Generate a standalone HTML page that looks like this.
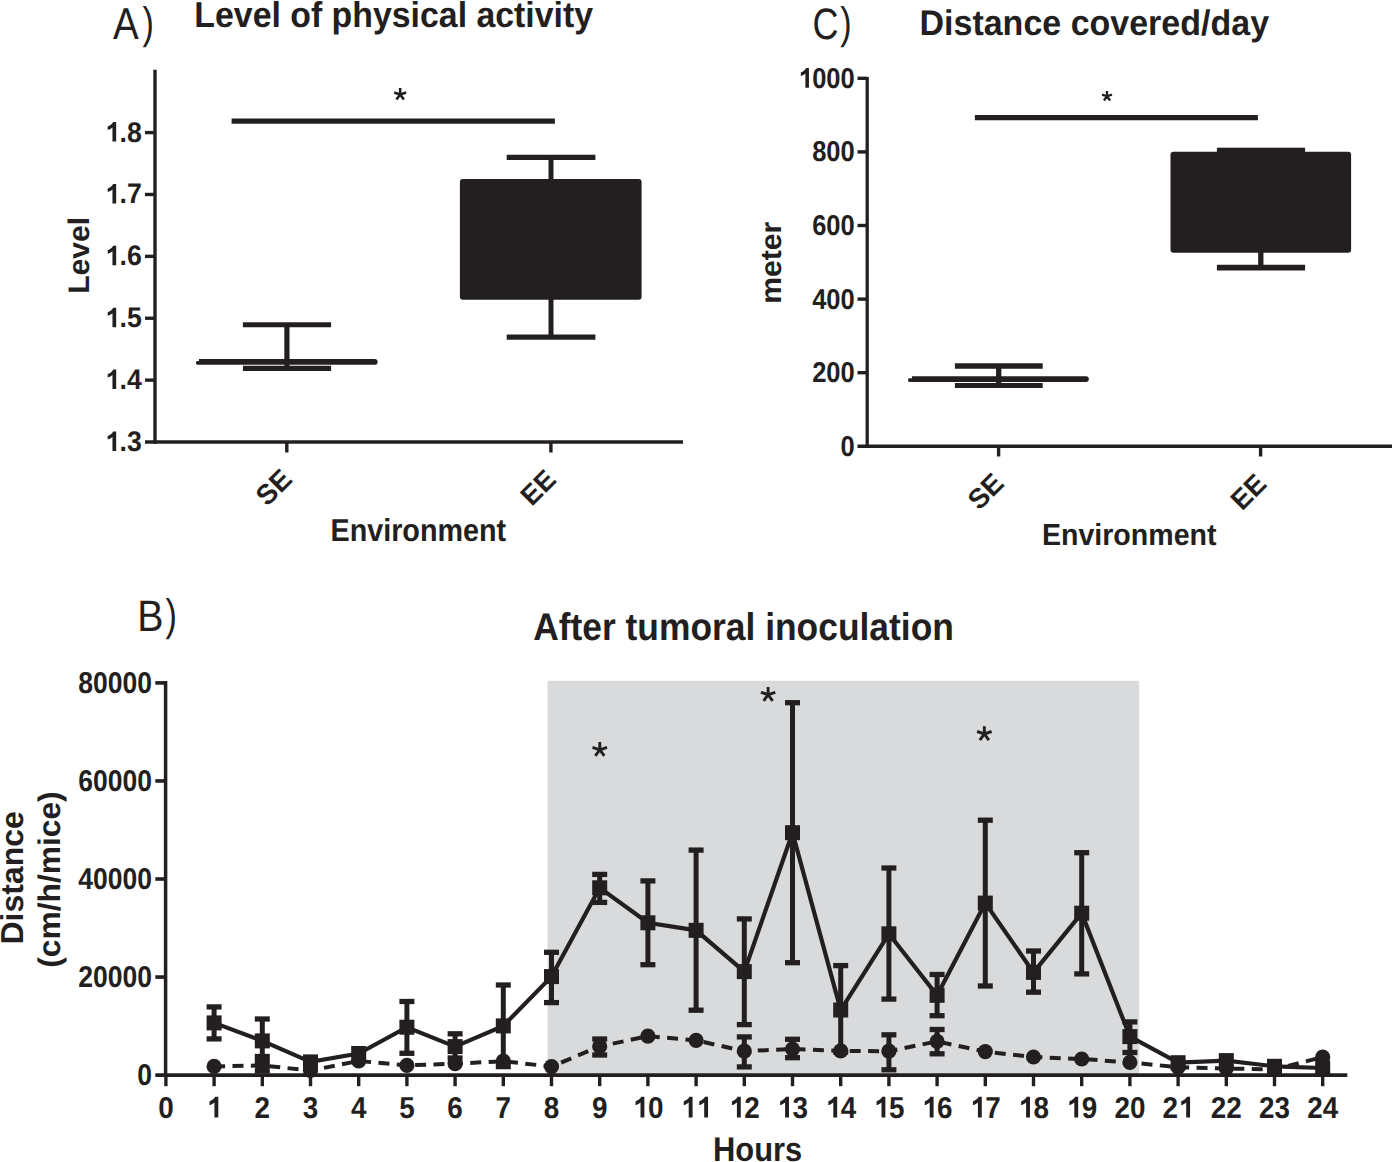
<!DOCTYPE html>
<html><head><meta charset="utf-8"><title>Figure</title>
<style>html,body{margin:0;padding:0;background:#fff;} svg{display:block;} text{font-family:"Liberation Sans", sans-serif;}</style>
</head><body>
<svg width="1392" height="1162" viewBox="0 0 1392 1162">
<defs><path id="one" fill="#231f20" d="M 880 0 L 595 0 L 595 1010 C 510 935 370 865 230 830 L 230 1085 C 340 1120 460 1190 535 1260 C 600 1320 630 1370 645 1409 L 880 1409 Z"/></defs>
<rect x="0" y="0" width="1392" height="1162" fill="#fff"/>
<line x1="155.00" y1="69.70" x2="155.00" y2="443.80" stroke="#231f20" stroke-width="3.4" stroke-linecap="butt"/>
<line x1="145.00" y1="442.00" x2="683.00" y2="442.00" stroke="#231f20" stroke-width="3.6" stroke-linecap="butt"/>
<line x1="145.00" y1="380.12" x2="155.00" y2="380.12" stroke="#231f20" stroke-width="3.4" stroke-linecap="butt"/>
<line x1="145.00" y1="318.24" x2="155.00" y2="318.24" stroke="#231f20" stroke-width="3.4" stroke-linecap="butt"/>
<line x1="145.00" y1="256.36" x2="155.00" y2="256.36" stroke="#231f20" stroke-width="3.4" stroke-linecap="butt"/>
<line x1="145.00" y1="194.48" x2="155.00" y2="194.48" stroke="#231f20" stroke-width="3.4" stroke-linecap="butt"/>
<line x1="145.00" y1="132.60" x2="155.00" y2="132.60" stroke="#231f20" stroke-width="3.4" stroke-linecap="butt"/>
<line x1="286.80" y1="442.00" x2="286.80" y2="452.50" stroke="#231f20" stroke-width="3.4" stroke-linecap="butt"/>
<line x1="550.90" y1="442.00" x2="550.90" y2="452.50" stroke="#231f20" stroke-width="3.4" stroke-linecap="butt"/>
<line x1="231.60" y1="121.10" x2="554.90" y2="121.10" stroke="#231f20" stroke-width="5.4" stroke-linecap="butt"/>
<line x1="242.90" y1="324.70" x2="331.10" y2="324.70" stroke="#231f20" stroke-width="5.0" stroke-linecap="butt"/>
<line x1="286.90" y1="324.70" x2="286.90" y2="368.30" stroke="#231f20" stroke-width="5.2" stroke-linecap="butt"/>
<line x1="242.90" y1="368.30" x2="331.10" y2="368.30" stroke="#231f20" stroke-width="5.3" stroke-linecap="butt"/>
<path d="M199.0,359.1 H374.8 A2.8,2.8 0 0 1 374.8,364.7 H199.0 Z" fill="#231f20"/>
<rect x="196.0" y="361.0" width="4" height="3.7" rx="1.4" fill="#231f20"/>
<line x1="506.70" y1="157.40" x2="595.40" y2="157.40" stroke="#231f20" stroke-width="5.4" stroke-linecap="butt"/>
<line x1="551.00" y1="157.40" x2="551.00" y2="337.10" stroke="#231f20" stroke-width="5.0" stroke-linecap="butt"/>
<line x1="506.70" y1="337.10" x2="595.40" y2="337.10" stroke="#231f20" stroke-width="5.4" stroke-linecap="butt"/>
<rect x="459.90" y="179.10" width="181.70" height="120.60" rx="3" fill="#231f20"/>
<line x1="867.20" y1="77.00" x2="867.20" y2="448.00" stroke="#231f20" stroke-width="3.3" stroke-linecap="butt"/>
<line x1="857.50" y1="446.30" x2="1392.00" y2="446.30" stroke="#231f20" stroke-width="3.6" stroke-linecap="butt"/>
<line x1="857.50" y1="372.70" x2="867.20" y2="372.70" stroke="#231f20" stroke-width="3.4" stroke-linecap="butt"/>
<line x1="857.50" y1="299.10" x2="867.20" y2="299.10" stroke="#231f20" stroke-width="3.4" stroke-linecap="butt"/>
<line x1="857.50" y1="225.50" x2="867.20" y2="225.50" stroke="#231f20" stroke-width="3.4" stroke-linecap="butt"/>
<line x1="857.50" y1="151.90" x2="867.20" y2="151.90" stroke="#231f20" stroke-width="3.4" stroke-linecap="butt"/>
<line x1="857.50" y1="78.30" x2="867.20" y2="78.30" stroke="#231f20" stroke-width="3.4" stroke-linecap="butt"/>
<line x1="998.60" y1="446.30" x2="998.60" y2="456.50" stroke="#231f20" stroke-width="3.4" stroke-linecap="butt"/>
<line x1="1260.60" y1="446.30" x2="1260.60" y2="456.50" stroke="#231f20" stroke-width="3.4" stroke-linecap="butt"/>
<line x1="974.90" y1="117.60" x2="1257.90" y2="117.60" stroke="#231f20" stroke-width="5.3" stroke-linecap="butt"/>
<line x1="954.90" y1="366.00" x2="1042.70" y2="366.00" stroke="#231f20" stroke-width="5.3" stroke-linecap="butt"/>
<line x1="998.70" y1="366.00" x2="998.70" y2="385.50" stroke="#231f20" stroke-width="5.3" stroke-linecap="butt"/>
<line x1="954.90" y1="385.50" x2="1042.70" y2="385.50" stroke="#231f20" stroke-width="5.0" stroke-linecap="butt"/>
<path d="M911.9,376.2 H1086.0 A2.85,2.85 0 0 1 1086.0,381.9 H911.9 Z" fill="#231f20"/>
<rect x="908.1" y="378.2" width="4.5" height="3.7" rx="1.4" fill="#231f20"/>
<rect x="1216.90" y="147.70" width="88.20" height="7.30" rx="0" fill="#231f20"/>
<rect x="1170.50" y="151.70" width="180.60" height="101.00" rx="3" fill="#231f20"/>
<line x1="1260.80" y1="250.00" x2="1260.80" y2="267.60" stroke="#231f20" stroke-width="5.3" stroke-linecap="butt"/>
<line x1="1216.90" y1="267.60" x2="1305.10" y2="267.60" stroke="#231f20" stroke-width="5.8" stroke-linecap="butt"/>
<rect x="547.50" y="680.80" width="591.70" height="394.30" rx="1.5" fill="#d9dadc"/>
<line x1="165.60" y1="681.00" x2="165.60" y2="1077.00" stroke="#231f20" stroke-width="3.5" stroke-linecap="butt"/>
<line x1="155.30" y1="1075.10" x2="1347.30" y2="1075.10" stroke="#231f20" stroke-width="3.8" stroke-linecap="butt"/>
<line x1="155.30" y1="977.05" x2="165.60" y2="977.05" stroke="#231f20" stroke-width="3.6" stroke-linecap="butt"/>
<line x1="155.30" y1="879.00" x2="165.60" y2="879.00" stroke="#231f20" stroke-width="3.6" stroke-linecap="butt"/>
<line x1="155.30" y1="780.95" x2="165.60" y2="780.95" stroke="#231f20" stroke-width="3.6" stroke-linecap="butt"/>
<line x1="155.30" y1="682.90" x2="165.60" y2="682.90" stroke="#231f20" stroke-width="3.6" stroke-linecap="butt"/>
<line x1="165.90" y1="1075.10" x2="165.90" y2="1086.20" stroke="#231f20" stroke-width="3.4" stroke-linecap="butt"/>
<line x1="214.10" y1="1075.10" x2="214.10" y2="1086.20" stroke="#231f20" stroke-width="3.4" stroke-linecap="butt"/>
<line x1="262.30" y1="1075.10" x2="262.30" y2="1086.20" stroke="#231f20" stroke-width="3.4" stroke-linecap="butt"/>
<line x1="310.50" y1="1075.10" x2="310.50" y2="1086.20" stroke="#231f20" stroke-width="3.4" stroke-linecap="butt"/>
<line x1="358.70" y1="1075.10" x2="358.70" y2="1086.20" stroke="#231f20" stroke-width="3.4" stroke-linecap="butt"/>
<line x1="406.90" y1="1075.10" x2="406.90" y2="1086.20" stroke="#231f20" stroke-width="3.4" stroke-linecap="butt"/>
<line x1="455.10" y1="1075.10" x2="455.10" y2="1086.20" stroke="#231f20" stroke-width="3.4" stroke-linecap="butt"/>
<line x1="503.30" y1="1075.10" x2="503.30" y2="1086.20" stroke="#231f20" stroke-width="3.4" stroke-linecap="butt"/>
<line x1="551.50" y1="1075.10" x2="551.50" y2="1086.20" stroke="#231f20" stroke-width="3.4" stroke-linecap="butt"/>
<line x1="599.70" y1="1075.10" x2="599.70" y2="1086.20" stroke="#231f20" stroke-width="3.4" stroke-linecap="butt"/>
<line x1="647.90" y1="1075.10" x2="647.90" y2="1086.20" stroke="#231f20" stroke-width="3.4" stroke-linecap="butt"/>
<line x1="696.10" y1="1075.10" x2="696.10" y2="1086.20" stroke="#231f20" stroke-width="3.4" stroke-linecap="butt"/>
<line x1="744.30" y1="1075.10" x2="744.30" y2="1086.20" stroke="#231f20" stroke-width="3.4" stroke-linecap="butt"/>
<line x1="792.50" y1="1075.10" x2="792.50" y2="1086.20" stroke="#231f20" stroke-width="3.4" stroke-linecap="butt"/>
<line x1="840.70" y1="1075.10" x2="840.70" y2="1086.20" stroke="#231f20" stroke-width="3.4" stroke-linecap="butt"/>
<line x1="888.90" y1="1075.10" x2="888.90" y2="1086.20" stroke="#231f20" stroke-width="3.4" stroke-linecap="butt"/>
<line x1="937.10" y1="1075.10" x2="937.10" y2="1086.20" stroke="#231f20" stroke-width="3.4" stroke-linecap="butt"/>
<line x1="985.30" y1="1075.10" x2="985.30" y2="1086.20" stroke="#231f20" stroke-width="3.4" stroke-linecap="butt"/>
<line x1="1033.50" y1="1075.10" x2="1033.50" y2="1086.20" stroke="#231f20" stroke-width="3.4" stroke-linecap="butt"/>
<line x1="1081.70" y1="1075.10" x2="1081.70" y2="1086.20" stroke="#231f20" stroke-width="3.4" stroke-linecap="butt"/>
<line x1="1129.90" y1="1075.10" x2="1129.90" y2="1086.20" stroke="#231f20" stroke-width="3.4" stroke-linecap="butt"/>
<line x1="1178.10" y1="1075.10" x2="1178.10" y2="1086.20" stroke="#231f20" stroke-width="3.4" stroke-linecap="butt"/>
<line x1="1226.30" y1="1075.10" x2="1226.30" y2="1086.20" stroke="#231f20" stroke-width="3.4" stroke-linecap="butt"/>
<line x1="1274.50" y1="1075.10" x2="1274.50" y2="1086.20" stroke="#231f20" stroke-width="3.4" stroke-linecap="butt"/>
<line x1="1322.70" y1="1075.10" x2="1322.70" y2="1086.20" stroke="#231f20" stroke-width="3.4" stroke-linecap="butt"/>
<polyline points="214.10,1066.40 262.30,1065.50 310.50,1070.50 358.70,1061.00 406.90,1065.40 455.10,1063.70 503.30,1061.20 551.50,1066.60 599.70,1046.40 647.90,1036.20 696.10,1040.30 744.30,1051.20 792.50,1049.00 840.70,1050.90 888.90,1051.20 937.10,1041.40 985.30,1051.60 1033.50,1057.00 1081.70,1059.00 1129.90,1062.40 1178.10,1067.20 1226.30,1068.50 1274.50,1069.50 1322.70,1057.00" fill="none" stroke="#231f20" stroke-width="4.0" stroke-dasharray="11 7.4"/>
<circle cx="214.10" cy="1066.40" r="7.6" fill="#231f20"/>
<line x1="262.30" y1="1061.50" x2="262.30" y2="1065.50" stroke="#231f20" stroke-width="5.0" stroke-linecap="butt"/>
<line x1="254.80" y1="1061.50" x2="269.80" y2="1061.50" stroke="#231f20" stroke-width="5.3" stroke-linecap="butt"/>
<line x1="262.30" y1="1065.50" x2="262.30" y2="1071.00" stroke="#231f20" stroke-width="5.0" stroke-linecap="butt"/>
<line x1="254.80" y1="1071.00" x2="269.80" y2="1071.00" stroke="#231f20" stroke-width="5.3" stroke-linecap="butt"/>
<circle cx="262.30" cy="1065.50" r="7.6" fill="#231f20"/>
<circle cx="310.50" cy="1070.50" r="7.6" fill="#231f20"/>
<circle cx="358.70" cy="1061.00" r="7.6" fill="#231f20"/>
<circle cx="406.90" cy="1065.40" r="7.6" fill="#231f20"/>
<circle cx="455.10" cy="1063.70" r="7.6" fill="#231f20"/>
<circle cx="503.30" cy="1061.20" r="7.6" fill="#231f20"/>
<circle cx="551.50" cy="1066.60" r="7.6" fill="#231f20"/>
<line x1="599.70" y1="1039.00" x2="599.70" y2="1046.40" stroke="#231f20" stroke-width="5.0" stroke-linecap="butt"/>
<line x1="592.20" y1="1039.00" x2="607.20" y2="1039.00" stroke="#231f20" stroke-width="5.3" stroke-linecap="butt"/>
<line x1="599.70" y1="1046.40" x2="599.70" y2="1055.00" stroke="#231f20" stroke-width="5.0" stroke-linecap="butt"/>
<line x1="592.20" y1="1055.00" x2="607.20" y2="1055.00" stroke="#231f20" stroke-width="5.3" stroke-linecap="butt"/>
<circle cx="599.70" cy="1046.40" r="7.6" fill="#231f20"/>
<circle cx="647.90" cy="1036.20" r="7.6" fill="#231f20"/>
<circle cx="696.10" cy="1040.30" r="7.6" fill="#231f20"/>
<line x1="744.30" y1="1036.90" x2="744.30" y2="1051.20" stroke="#231f20" stroke-width="5.0" stroke-linecap="butt"/>
<line x1="736.80" y1="1036.90" x2="751.80" y2="1036.90" stroke="#231f20" stroke-width="5.3" stroke-linecap="butt"/>
<line x1="744.30" y1="1051.20" x2="744.30" y2="1066.90" stroke="#231f20" stroke-width="5.0" stroke-linecap="butt"/>
<line x1="736.80" y1="1066.90" x2="751.80" y2="1066.90" stroke="#231f20" stroke-width="5.3" stroke-linecap="butt"/>
<circle cx="744.30" cy="1051.20" r="7.6" fill="#231f20"/>
<line x1="792.50" y1="1039.30" x2="792.50" y2="1049.00" stroke="#231f20" stroke-width="5.0" stroke-linecap="butt"/>
<line x1="785.00" y1="1039.30" x2="800.00" y2="1039.30" stroke="#231f20" stroke-width="5.3" stroke-linecap="butt"/>
<line x1="792.50" y1="1049.00" x2="792.50" y2="1057.70" stroke="#231f20" stroke-width="5.0" stroke-linecap="butt"/>
<line x1="785.00" y1="1057.70" x2="800.00" y2="1057.70" stroke="#231f20" stroke-width="5.3" stroke-linecap="butt"/>
<circle cx="792.50" cy="1049.00" r="7.6" fill="#231f20"/>
<circle cx="840.70" cy="1050.90" r="7.6" fill="#231f20"/>
<line x1="888.90" y1="1034.80" x2="888.90" y2="1051.20" stroke="#231f20" stroke-width="5.0" stroke-linecap="butt"/>
<line x1="881.40" y1="1034.80" x2="896.40" y2="1034.80" stroke="#231f20" stroke-width="5.3" stroke-linecap="butt"/>
<line x1="888.90" y1="1051.20" x2="888.90" y2="1069.80" stroke="#231f20" stroke-width="5.0" stroke-linecap="butt"/>
<line x1="881.40" y1="1069.80" x2="896.40" y2="1069.80" stroke="#231f20" stroke-width="5.3" stroke-linecap="butt"/>
<circle cx="888.90" cy="1051.20" r="7.6" fill="#231f20"/>
<line x1="937.10" y1="1029.50" x2="937.10" y2="1041.40" stroke="#231f20" stroke-width="5.0" stroke-linecap="butt"/>
<line x1="929.60" y1="1029.50" x2="944.60" y2="1029.50" stroke="#231f20" stroke-width="5.3" stroke-linecap="butt"/>
<line x1="937.10" y1="1041.40" x2="937.10" y2="1053.80" stroke="#231f20" stroke-width="5.0" stroke-linecap="butt"/>
<line x1="929.60" y1="1053.80" x2="944.60" y2="1053.80" stroke="#231f20" stroke-width="5.3" stroke-linecap="butt"/>
<circle cx="937.10" cy="1041.40" r="7.6" fill="#231f20"/>
<circle cx="985.30" cy="1051.60" r="7.6" fill="#231f20"/>
<circle cx="1033.50" cy="1057.00" r="7.6" fill="#231f20"/>
<circle cx="1081.70" cy="1059.00" r="7.6" fill="#231f20"/>
<circle cx="1129.90" cy="1062.40" r="7.6" fill="#231f20"/>
<circle cx="1178.10" cy="1067.20" r="7.6" fill="#231f20"/>
<circle cx="1226.30" cy="1068.50" r="7.6" fill="#231f20"/>
<circle cx="1274.50" cy="1069.50" r="7.6" fill="#231f20"/>
<circle cx="1322.70" cy="1057.00" r="7.6" fill="#231f20"/>
<polyline points="214.10,1022.90 262.30,1040.90 310.50,1061.90 358.70,1053.50 406.90,1027.20 455.10,1046.60 503.30,1025.90 551.50,976.60 599.70,887.80 647.90,922.80 696.10,930.30 744.30,971.60 792.50,832.70 840.70,1010.00 888.90,933.80 937.10,995.30 985.30,903.10 1033.50,972.40 1081.70,913.20 1129.90,1036.60 1178.10,1062.70 1226.30,1060.60 1274.50,1066.30 1322.70,1068.00" fill="none" stroke="#231f20" stroke-width="4.2" stroke-linejoin="miter"/>
<line x1="214.10" y1="1006.90" x2="214.10" y2="1022.90" stroke="#231f20" stroke-width="5.0" stroke-linecap="butt"/>
<line x1="206.60" y1="1006.90" x2="221.60" y2="1006.90" stroke="#231f20" stroke-width="5.3" stroke-linecap="butt"/>
<line x1="214.10" y1="1022.90" x2="214.10" y2="1038.90" stroke="#231f20" stroke-width="5.0" stroke-linecap="butt"/>
<line x1="206.60" y1="1038.90" x2="221.60" y2="1038.90" stroke="#231f20" stroke-width="5.3" stroke-linecap="butt"/>
<rect x="206.60" y="1015.40" width="15.00" height="15.00" rx="0" fill="#231f20"/>
<line x1="262.30" y1="1019.00" x2="262.30" y2="1040.90" stroke="#231f20" stroke-width="5.0" stroke-linecap="butt"/>
<line x1="254.80" y1="1019.00" x2="269.80" y2="1019.00" stroke="#231f20" stroke-width="5.3" stroke-linecap="butt"/>
<line x1="262.30" y1="1040.90" x2="262.30" y2="1056.50" stroke="#231f20" stroke-width="5.0" stroke-linecap="butt"/>
<line x1="254.80" y1="1056.50" x2="269.80" y2="1056.50" stroke="#231f20" stroke-width="5.3" stroke-linecap="butt"/>
<rect x="254.80" y="1033.40" width="15.00" height="15.00" rx="0" fill="#231f20"/>
<rect x="303.00" y="1054.40" width="15.00" height="15.00" rx="0" fill="#231f20"/>
<rect x="351.20" y="1046.00" width="15.00" height="15.00" rx="0" fill="#231f20"/>
<line x1="406.90" y1="1001.50" x2="406.90" y2="1027.20" stroke="#231f20" stroke-width="5.0" stroke-linecap="butt"/>
<line x1="399.40" y1="1001.50" x2="414.40" y2="1001.50" stroke="#231f20" stroke-width="5.3" stroke-linecap="butt"/>
<line x1="406.90" y1="1027.20" x2="406.90" y2="1053.30" stroke="#231f20" stroke-width="5.0" stroke-linecap="butt"/>
<line x1="399.40" y1="1053.30" x2="414.40" y2="1053.30" stroke="#231f20" stroke-width="5.3" stroke-linecap="butt"/>
<rect x="399.40" y="1019.70" width="15.00" height="15.00" rx="0" fill="#231f20"/>
<line x1="455.10" y1="1033.80" x2="455.10" y2="1046.60" stroke="#231f20" stroke-width="5.0" stroke-linecap="butt"/>
<line x1="447.60" y1="1033.80" x2="462.60" y2="1033.80" stroke="#231f20" stroke-width="5.3" stroke-linecap="butt"/>
<line x1="455.10" y1="1046.60" x2="455.10" y2="1058.00" stroke="#231f20" stroke-width="5.0" stroke-linecap="butt"/>
<line x1="447.60" y1="1058.00" x2="462.60" y2="1058.00" stroke="#231f20" stroke-width="5.3" stroke-linecap="butt"/>
<rect x="447.60" y="1039.10" width="15.00" height="15.00" rx="0" fill="#231f20"/>
<line x1="503.30" y1="985.00" x2="503.30" y2="1025.90" stroke="#231f20" stroke-width="5.0" stroke-linecap="butt"/>
<line x1="495.80" y1="985.00" x2="510.80" y2="985.00" stroke="#231f20" stroke-width="5.3" stroke-linecap="butt"/>
<line x1="503.30" y1="1025.90" x2="503.30" y2="1066.60" stroke="#231f20" stroke-width="5.0" stroke-linecap="butt"/>
<line x1="495.80" y1="1066.60" x2="510.80" y2="1066.60" stroke="#231f20" stroke-width="5.3" stroke-linecap="butt"/>
<rect x="495.80" y="1018.40" width="15.00" height="15.00" rx="0" fill="#231f20"/>
<line x1="551.50" y1="952.30" x2="551.50" y2="976.60" stroke="#231f20" stroke-width="5.0" stroke-linecap="butt"/>
<line x1="544.00" y1="952.30" x2="559.00" y2="952.30" stroke="#231f20" stroke-width="5.3" stroke-linecap="butt"/>
<line x1="551.50" y1="976.60" x2="551.50" y2="1002.60" stroke="#231f20" stroke-width="5.0" stroke-linecap="butt"/>
<line x1="544.00" y1="1002.60" x2="559.00" y2="1002.60" stroke="#231f20" stroke-width="5.3" stroke-linecap="butt"/>
<rect x="544.00" y="969.10" width="15.00" height="15.00" rx="0" fill="#231f20"/>
<line x1="599.70" y1="874.40" x2="599.70" y2="887.80" stroke="#231f20" stroke-width="5.0" stroke-linecap="butt"/>
<line x1="592.20" y1="874.40" x2="607.20" y2="874.40" stroke="#231f20" stroke-width="5.3" stroke-linecap="butt"/>
<line x1="599.70" y1="887.80" x2="599.70" y2="902.40" stroke="#231f20" stroke-width="5.0" stroke-linecap="butt"/>
<line x1="592.20" y1="902.40" x2="607.20" y2="902.40" stroke="#231f20" stroke-width="5.3" stroke-linecap="butt"/>
<rect x="592.20" y="880.30" width="15.00" height="15.00" rx="0" fill="#231f20"/>
<line x1="647.90" y1="880.90" x2="647.90" y2="922.80" stroke="#231f20" stroke-width="5.0" stroke-linecap="butt"/>
<line x1="640.40" y1="880.90" x2="655.40" y2="880.90" stroke="#231f20" stroke-width="5.3" stroke-linecap="butt"/>
<line x1="647.90" y1="922.80" x2="647.90" y2="964.70" stroke="#231f20" stroke-width="5.0" stroke-linecap="butt"/>
<line x1="640.40" y1="964.70" x2="655.40" y2="964.70" stroke="#231f20" stroke-width="5.3" stroke-linecap="butt"/>
<rect x="640.40" y="915.30" width="15.00" height="15.00" rx="0" fill="#231f20"/>
<line x1="696.10" y1="850.10" x2="696.10" y2="930.30" stroke="#231f20" stroke-width="5.0" stroke-linecap="butt"/>
<line x1="688.60" y1="850.10" x2="703.60" y2="850.10" stroke="#231f20" stroke-width="5.3" stroke-linecap="butt"/>
<line x1="696.10" y1="930.30" x2="696.10" y2="1010.20" stroke="#231f20" stroke-width="5.0" stroke-linecap="butt"/>
<line x1="688.60" y1="1010.20" x2="703.60" y2="1010.20" stroke="#231f20" stroke-width="5.3" stroke-linecap="butt"/>
<rect x="688.60" y="922.80" width="15.00" height="15.00" rx="0" fill="#231f20"/>
<line x1="744.30" y1="918.90" x2="744.30" y2="971.60" stroke="#231f20" stroke-width="5.0" stroke-linecap="butt"/>
<line x1="736.80" y1="918.90" x2="751.80" y2="918.90" stroke="#231f20" stroke-width="5.3" stroke-linecap="butt"/>
<line x1="744.30" y1="971.60" x2="744.30" y2="1024.60" stroke="#231f20" stroke-width="5.0" stroke-linecap="butt"/>
<line x1="736.80" y1="1024.60" x2="751.80" y2="1024.60" stroke="#231f20" stroke-width="5.3" stroke-linecap="butt"/>
<rect x="736.80" y="964.10" width="15.00" height="15.00" rx="0" fill="#231f20"/>
<line x1="792.50" y1="702.70" x2="792.50" y2="832.70" stroke="#231f20" stroke-width="5.0" stroke-linecap="butt"/>
<line x1="785.00" y1="702.70" x2="800.00" y2="702.70" stroke="#231f20" stroke-width="5.3" stroke-linecap="butt"/>
<line x1="792.50" y1="832.70" x2="792.50" y2="962.70" stroke="#231f20" stroke-width="5.0" stroke-linecap="butt"/>
<line x1="785.00" y1="962.70" x2="800.00" y2="962.70" stroke="#231f20" stroke-width="5.3" stroke-linecap="butt"/>
<rect x="785.00" y="825.20" width="15.00" height="15.00" rx="0" fill="#231f20"/>
<line x1="840.70" y1="965.60" x2="840.70" y2="1010.00" stroke="#231f20" stroke-width="5.0" stroke-linecap="butt"/>
<line x1="833.20" y1="965.60" x2="848.20" y2="965.60" stroke="#231f20" stroke-width="5.3" stroke-linecap="butt"/>
<line x1="840.70" y1="1010.00" x2="840.70" y2="1052.00" stroke="#231f20" stroke-width="5.0" stroke-linecap="butt"/>
<line x1="833.20" y1="1052.00" x2="848.20" y2="1052.00" stroke="#231f20" stroke-width="5.3" stroke-linecap="butt"/>
<rect x="833.20" y="1002.50" width="15.00" height="15.00" rx="0" fill="#231f20"/>
<line x1="888.90" y1="868.00" x2="888.90" y2="933.80" stroke="#231f20" stroke-width="5.0" stroke-linecap="butt"/>
<line x1="881.40" y1="868.00" x2="896.40" y2="868.00" stroke="#231f20" stroke-width="5.3" stroke-linecap="butt"/>
<line x1="888.90" y1="933.80" x2="888.90" y2="999.10" stroke="#231f20" stroke-width="5.0" stroke-linecap="butt"/>
<line x1="881.40" y1="999.10" x2="896.40" y2="999.10" stroke="#231f20" stroke-width="5.3" stroke-linecap="butt"/>
<rect x="881.40" y="926.30" width="15.00" height="15.00" rx="0" fill="#231f20"/>
<line x1="937.10" y1="974.50" x2="937.10" y2="995.30" stroke="#231f20" stroke-width="5.0" stroke-linecap="butt"/>
<line x1="929.60" y1="974.50" x2="944.60" y2="974.50" stroke="#231f20" stroke-width="5.3" stroke-linecap="butt"/>
<line x1="937.10" y1="995.30" x2="937.10" y2="1015.70" stroke="#231f20" stroke-width="5.0" stroke-linecap="butt"/>
<line x1="929.60" y1="1015.70" x2="944.60" y2="1015.70" stroke="#231f20" stroke-width="5.3" stroke-linecap="butt"/>
<rect x="929.60" y="987.80" width="15.00" height="15.00" rx="0" fill="#231f20"/>
<line x1="985.30" y1="820.20" x2="985.30" y2="903.10" stroke="#231f20" stroke-width="5.0" stroke-linecap="butt"/>
<line x1="977.80" y1="820.20" x2="992.80" y2="820.20" stroke="#231f20" stroke-width="5.3" stroke-linecap="butt"/>
<line x1="985.30" y1="903.10" x2="985.30" y2="986.00" stroke="#231f20" stroke-width="5.0" stroke-linecap="butt"/>
<line x1="977.80" y1="986.00" x2="992.80" y2="986.00" stroke="#231f20" stroke-width="5.3" stroke-linecap="butt"/>
<rect x="977.80" y="895.60" width="15.00" height="15.00" rx="0" fill="#231f20"/>
<line x1="1033.50" y1="951.00" x2="1033.50" y2="972.40" stroke="#231f20" stroke-width="5.0" stroke-linecap="butt"/>
<line x1="1026.00" y1="951.00" x2="1041.00" y2="951.00" stroke="#231f20" stroke-width="5.3" stroke-linecap="butt"/>
<line x1="1033.50" y1="972.40" x2="1033.50" y2="992.20" stroke="#231f20" stroke-width="5.0" stroke-linecap="butt"/>
<line x1="1026.00" y1="992.20" x2="1041.00" y2="992.20" stroke="#231f20" stroke-width="5.3" stroke-linecap="butt"/>
<rect x="1026.00" y="964.90" width="15.00" height="15.00" rx="0" fill="#231f20"/>
<line x1="1081.70" y1="852.70" x2="1081.70" y2="913.20" stroke="#231f20" stroke-width="5.0" stroke-linecap="butt"/>
<line x1="1074.20" y1="852.70" x2="1089.20" y2="852.70" stroke="#231f20" stroke-width="5.3" stroke-linecap="butt"/>
<line x1="1081.70" y1="913.20" x2="1081.70" y2="973.90" stroke="#231f20" stroke-width="5.0" stroke-linecap="butt"/>
<line x1="1074.20" y1="973.90" x2="1089.20" y2="973.90" stroke="#231f20" stroke-width="5.3" stroke-linecap="butt"/>
<rect x="1074.20" y="905.70" width="15.00" height="15.00" rx="0" fill="#231f20"/>
<line x1="1129.90" y1="1021.90" x2="1129.90" y2="1036.60" stroke="#231f20" stroke-width="5.0" stroke-linecap="butt"/>
<line x1="1122.40" y1="1021.90" x2="1137.40" y2="1021.90" stroke="#231f20" stroke-width="5.3" stroke-linecap="butt"/>
<line x1="1129.90" y1="1036.60" x2="1129.90" y2="1052.50" stroke="#231f20" stroke-width="5.0" stroke-linecap="butt"/>
<line x1="1122.40" y1="1052.50" x2="1137.40" y2="1052.50" stroke="#231f20" stroke-width="5.3" stroke-linecap="butt"/>
<rect x="1122.40" y="1029.10" width="15.00" height="15.00" rx="0" fill="#231f20"/>
<rect x="1170.60" y="1055.20" width="15.00" height="15.00" rx="0" fill="#231f20"/>
<rect x="1218.80" y="1053.10" width="15.00" height="15.00" rx="0" fill="#231f20"/>
<rect x="1267.00" y="1058.80" width="15.00" height="15.00" rx="0" fill="#231f20"/>
<rect x="1315.20" y="1060.50" width="15.00" height="15.00" rx="0" fill="#231f20"/>
<text transform="translate(113.10,38.80) scale(0.8633,1)" font-family='"Liberation Sans", sans-serif' font-weight="normal" font-size="44.622" text-rendering="geometricPrecision" text-anchor="start" fill="#231f20">A</text>
<text transform="translate(142.55,37.65) rotate(0) scale(0.7746,1)" font-family='"Liberation Sans", sans-serif' font-weight="normal" font-size="44.194" text-rendering="geometricPrecision" text-anchor="start" fill="#231f20">)</text>
<text transform="translate(194.32,26.70) scale(0.9409,1)" font-family='"Liberation Sans", sans-serif' font-weight="bold" font-size="35.977" text-rendering="geometricPrecision" text-anchor="start" fill="#231f20">Level of physical activity</text>
<path d="M400.15,94.42L400.15,88.10M400.15,94.42L406.16,92.47M400.15,94.42L403.87,99.54M400.15,94.42L396.43,99.54M400.15,94.42L394.14,92.47" stroke="#231f20" stroke-width="2.6" fill="none"/>
<text transform="translate(89.00,293.82) rotate(-90) scale(1.0125,1)" font-family='"Liberation Sans", sans-serif' font-weight="bold" font-size="29.745" text-rendering="geometricPrecision" text-anchor="start" fill="#231f20">Level</text>
<text transform="translate(267.30,507.25) rotate(-45) scale(1.0000,1)" font-family='"Liberation Sans", sans-serif' font-weight="bold" font-size="27.960" text-rendering="geometricPrecision" text-anchor="start" fill="#231f20">SE</text>
<text transform="translate(531.85,506.90) rotate(-45) scale(1.0000,1)" font-family='"Liberation Sans", sans-serif' font-weight="bold" font-size="27.273" text-rendering="geometricPrecision" text-anchor="start" fill="#231f20">EE</text>
<text transform="translate(330.48,541.40) scale(0.9084,1)" font-family='"Liberation Sans", sans-serif' font-weight="bold" font-size="31.655" text-rendering="geometricPrecision" text-anchor="start" fill="#231f20">Environment</text>
<text transform="translate(812.46,38.60) scale(0.8179,1)" font-family='"Liberation Sans", sans-serif' font-weight="normal" font-size="43.895" text-rendering="geometricPrecision" text-anchor="start" fill="#231f20">C</text>
<text transform="translate(840.15,37.60) rotate(0) scale(0.7727,1)" font-family='"Liberation Sans", sans-serif' font-weight="normal" font-size="44.301" text-rendering="geometricPrecision" text-anchor="start" fill="#231f20">)</text>
<text transform="translate(919.50,35.00) scale(0.9525,1)" font-family='"Liberation Sans", sans-serif' font-weight="bold" font-size="35.694" text-rendering="geometricPrecision" text-anchor="start" fill="#231f20">Distance covered/day</text>
<path d="M1107.00,96.23L1107.00,91.00M1107.00,96.23L1111.98,94.62M1107.00,96.23L1110.08,100.47M1107.00,96.23L1103.92,100.47M1107.00,96.23L1102.02,94.62" stroke="#231f20" stroke-width="2.3" fill="none"/>
<text transform="translate(780.80,303.65) rotate(-90) scale(1.0256,1)" font-family='"Liberation Sans", sans-serif' font-weight="bold" font-size="29.356" text-rendering="geometricPrecision" text-anchor="start" fill="#231f20">meter</text>
<text transform="translate(979.20,511.25) rotate(-45) scale(1.0000,1)" font-family='"Liberation Sans", sans-serif' font-weight="bold" font-size="27.876" text-rendering="geometricPrecision" text-anchor="start" fill="#231f20">SE</text>
<text transform="translate(1242.10,511.55) rotate(-45) scale(1.0000,1)" font-family='"Liberation Sans", sans-serif' font-weight="bold" font-size="27.566" text-rendering="geometricPrecision" text-anchor="start" fill="#231f20">EE</text>
<text transform="translate(1041.92,544.90) scale(0.9410,1)" font-family='"Liberation Sans", sans-serif' font-weight="bold" font-size="30.360" text-rendering="geometricPrecision" text-anchor="start" fill="#231f20">Environment</text>
<text transform="translate(137.22,631.40) scale(0.8957,1)" font-family='"Liberation Sans", sans-serif' font-weight="normal" font-size="43.895" text-rendering="geometricPrecision" text-anchor="start" fill="#231f20">B</text>
<text transform="translate(165.45,630.30) rotate(0) scale(0.7765,1)" font-family='"Liberation Sans", sans-serif' font-weight="normal" font-size="44.086" text-rendering="geometricPrecision" text-anchor="start" fill="#231f20">)</text>
<text transform="translate(533.18,640.10) scale(0.9187,1)" font-family='"Liberation Sans", sans-serif' font-weight="bold" font-size="38.527" text-rendering="geometricPrecision" text-anchor="start" fill="#231f20">After tumoral inoculation</text>
<text transform="translate(22.60,944.61) rotate(-90) scale(1.0070,1)" font-family='"Liberation Sans", sans-serif' font-weight="bold" font-size="31.799" text-rendering="geometricPrecision" text-anchor="start" fill="#231f20">Distance</text>
<text transform="translate(59.50,967.83) rotate(-90) scale(1.0165,1)" font-family='"Liberation Sans", sans-serif' font-weight="bold" font-size="31.250" text-rendering="geometricPrecision" text-anchor="start" fill="#231f20">(cm/h/mice)</text>
<text transform="translate(713.09,1160.50) scale(0.9074,1)" font-family='"Liberation Sans", sans-serif' font-weight="bold" font-size="34.012" text-rendering="geometricPrecision" text-anchor="start" fill="#231f20">Hours</text>
<path d="M599.80,749.77L599.80,742.10M599.80,749.77L607.09,747.40M599.80,749.77L604.31,755.97M599.80,749.77L595.29,755.97M599.80,749.77L592.51,747.40" stroke="#231f20" stroke-width="2.9" fill="none"/>
<path d="M768.10,694.62L768.10,687.00M768.10,694.62L775.34,692.26M768.10,694.62L772.58,700.78M768.10,694.62L763.62,700.78M768.10,694.62L760.86,692.26" stroke="#231f20" stroke-width="2.9" fill="none"/>
<path d="M984.35,733.87L984.35,726.20M984.35,733.87L991.64,731.50M984.35,733.87L988.86,740.07M984.35,733.87L979.84,740.07M984.35,733.87L977.06,731.50" stroke="#231f20" stroke-width="2.9" fill="none"/>
<use href="#one" transform="translate(104.70,450.92) scale(0.01304,-0.01382)"/>
<text transform="translate(119.55,450.92) scale(0.9433,1)" font-family='"Liberation Sans", sans-serif' font-weight="bold" font-size="28.310" text-rendering="geometricPrecision" fill="#231f20">.</text>
<text transform="translate(126.97,450.92) scale(0.9433,1)" font-family='"Liberation Sans", sans-serif' font-weight="bold" font-size="28.310" text-rendering="geometricPrecision" fill="#231f20">3</text>
<use href="#one" transform="translate(104.70,389.04) scale(0.01304,-0.01382)"/>
<text transform="translate(119.55,389.04) scale(0.9433,1)" font-family='"Liberation Sans", sans-serif' font-weight="bold" font-size="28.310" text-rendering="geometricPrecision" fill="#231f20">.</text>
<text transform="translate(126.97,389.04) scale(0.9433,1)" font-family='"Liberation Sans", sans-serif' font-weight="bold" font-size="28.310" text-rendering="geometricPrecision" fill="#231f20">4</text>
<use href="#one" transform="translate(104.70,327.16) scale(0.01304,-0.01382)"/>
<text transform="translate(119.55,327.16) scale(0.9433,1)" font-family='"Liberation Sans", sans-serif' font-weight="bold" font-size="28.310" text-rendering="geometricPrecision" fill="#231f20">.</text>
<text transform="translate(126.97,327.16) scale(0.9433,1)" font-family='"Liberation Sans", sans-serif' font-weight="bold" font-size="28.310" text-rendering="geometricPrecision" fill="#231f20">5</text>
<use href="#one" transform="translate(104.70,265.28) scale(0.01304,-0.01382)"/>
<text transform="translate(119.55,265.28) scale(0.9433,1)" font-family='"Liberation Sans", sans-serif' font-weight="bold" font-size="28.310" text-rendering="geometricPrecision" fill="#231f20">.</text>
<text transform="translate(126.97,265.28) scale(0.9433,1)" font-family='"Liberation Sans", sans-serif' font-weight="bold" font-size="28.310" text-rendering="geometricPrecision" fill="#231f20">6</text>
<use href="#one" transform="translate(104.70,203.40) scale(0.01304,-0.01382)"/>
<text transform="translate(119.55,203.40) scale(0.9433,1)" font-family='"Liberation Sans", sans-serif' font-weight="bold" font-size="28.310" text-rendering="geometricPrecision" fill="#231f20">.</text>
<text transform="translate(126.97,203.40) scale(0.9433,1)" font-family='"Liberation Sans", sans-serif' font-weight="bold" font-size="28.310" text-rendering="geometricPrecision" fill="#231f20">7</text>
<use href="#one" transform="translate(104.70,141.52) scale(0.01304,-0.01382)"/>
<text transform="translate(119.55,141.52) scale(0.9433,1)" font-family='"Liberation Sans", sans-serif' font-weight="bold" font-size="28.310" text-rendering="geometricPrecision" fill="#231f20">.</text>
<text transform="translate(126.97,141.52) scale(0.9433,1)" font-family='"Liberation Sans", sans-serif' font-weight="bold" font-size="28.310" text-rendering="geometricPrecision" fill="#231f20">8</text>
<text transform="translate(840.55,455.71) scale(0.8925,1)" font-family='"Liberation Sans", sans-serif' font-weight="bold" font-size="28.592" text-rendering="geometricPrecision" fill="#231f20">0</text>
<text transform="translate(812.17,382.11) scale(0.8925,1)" font-family='"Liberation Sans", sans-serif' font-weight="bold" font-size="28.592" text-rendering="geometricPrecision" fill="#231f20">2</text>
<text transform="translate(826.36,382.11) scale(0.8925,1)" font-family='"Liberation Sans", sans-serif' font-weight="bold" font-size="28.592" text-rendering="geometricPrecision" fill="#231f20">0</text>
<text transform="translate(840.55,382.11) scale(0.8925,1)" font-family='"Liberation Sans", sans-serif' font-weight="bold" font-size="28.592" text-rendering="geometricPrecision" fill="#231f20">0</text>
<text transform="translate(812.17,308.51) scale(0.8925,1)" font-family='"Liberation Sans", sans-serif' font-weight="bold" font-size="28.592" text-rendering="geometricPrecision" fill="#231f20">4</text>
<text transform="translate(826.36,308.51) scale(0.8925,1)" font-family='"Liberation Sans", sans-serif' font-weight="bold" font-size="28.592" text-rendering="geometricPrecision" fill="#231f20">0</text>
<text transform="translate(840.55,308.51) scale(0.8925,1)" font-family='"Liberation Sans", sans-serif' font-weight="bold" font-size="28.592" text-rendering="geometricPrecision" fill="#231f20">0</text>
<text transform="translate(812.17,234.91) scale(0.8925,1)" font-family='"Liberation Sans", sans-serif' font-weight="bold" font-size="28.592" text-rendering="geometricPrecision" fill="#231f20">6</text>
<text transform="translate(826.36,234.91) scale(0.8925,1)" font-family='"Liberation Sans", sans-serif' font-weight="bold" font-size="28.592" text-rendering="geometricPrecision" fill="#231f20">0</text>
<text transform="translate(840.55,234.91) scale(0.8925,1)" font-family='"Liberation Sans", sans-serif' font-weight="bold" font-size="28.592" text-rendering="geometricPrecision" fill="#231f20">0</text>
<text transform="translate(812.17,161.31) scale(0.8925,1)" font-family='"Liberation Sans", sans-serif' font-weight="bold" font-size="28.592" text-rendering="geometricPrecision" fill="#231f20">8</text>
<text transform="translate(826.36,161.31) scale(0.8925,1)" font-family='"Liberation Sans", sans-serif' font-weight="bold" font-size="28.592" text-rendering="geometricPrecision" fill="#231f20">0</text>
<text transform="translate(840.55,161.31) scale(0.8925,1)" font-family='"Liberation Sans", sans-serif' font-weight="bold" font-size="28.592" text-rendering="geometricPrecision" fill="#231f20">0</text>
<use href="#one" transform="translate(797.98,87.71) scale(0.01246,-0.01396)"/>
<text transform="translate(812.17,87.71) scale(0.8925,1)" font-family='"Liberation Sans", sans-serif' font-weight="bold" font-size="28.592" text-rendering="geometricPrecision" fill="#231f20">0</text>
<text transform="translate(826.36,87.71) scale(0.8925,1)" font-family='"Liberation Sans", sans-serif' font-weight="bold" font-size="28.592" text-rendering="geometricPrecision" fill="#231f20">0</text>
<text transform="translate(840.55,87.71) scale(0.8925,1)" font-family='"Liberation Sans", sans-serif' font-weight="bold" font-size="28.592" text-rendering="geometricPrecision" fill="#231f20">0</text>
<text transform="translate(137.33,1084.80) scale(0.8802,1)" font-family='"Liberation Sans", sans-serif' font-weight="bold" font-size="30.141" text-rendering="geometricPrecision" fill="#231f20">0</text>
<text transform="translate(78.31,986.75) scale(0.8802,1)" font-family='"Liberation Sans", sans-serif' font-weight="bold" font-size="30.141" text-rendering="geometricPrecision" fill="#231f20">2</text>
<text transform="translate(93.07,986.75) scale(0.8802,1)" font-family='"Liberation Sans", sans-serif' font-weight="bold" font-size="30.141" text-rendering="geometricPrecision" fill="#231f20">0</text>
<text transform="translate(107.82,986.75) scale(0.8802,1)" font-family='"Liberation Sans", sans-serif' font-weight="bold" font-size="30.141" text-rendering="geometricPrecision" fill="#231f20">0</text>
<text transform="translate(122.58,986.75) scale(0.8802,1)" font-family='"Liberation Sans", sans-serif' font-weight="bold" font-size="30.141" text-rendering="geometricPrecision" fill="#231f20">0</text>
<text transform="translate(137.33,986.75) scale(0.8802,1)" font-family='"Liberation Sans", sans-serif' font-weight="bold" font-size="30.141" text-rendering="geometricPrecision" fill="#231f20">0</text>
<text transform="translate(78.31,888.70) scale(0.8802,1)" font-family='"Liberation Sans", sans-serif' font-weight="bold" font-size="30.141" text-rendering="geometricPrecision" fill="#231f20">4</text>
<text transform="translate(93.07,888.70) scale(0.8802,1)" font-family='"Liberation Sans", sans-serif' font-weight="bold" font-size="30.141" text-rendering="geometricPrecision" fill="#231f20">0</text>
<text transform="translate(107.82,888.70) scale(0.8802,1)" font-family='"Liberation Sans", sans-serif' font-weight="bold" font-size="30.141" text-rendering="geometricPrecision" fill="#231f20">0</text>
<text transform="translate(122.58,888.70) scale(0.8802,1)" font-family='"Liberation Sans", sans-serif' font-weight="bold" font-size="30.141" text-rendering="geometricPrecision" fill="#231f20">0</text>
<text transform="translate(137.33,888.70) scale(0.8802,1)" font-family='"Liberation Sans", sans-serif' font-weight="bold" font-size="30.141" text-rendering="geometricPrecision" fill="#231f20">0</text>
<text transform="translate(78.31,790.65) scale(0.8802,1)" font-family='"Liberation Sans", sans-serif' font-weight="bold" font-size="30.141" text-rendering="geometricPrecision" fill="#231f20">6</text>
<text transform="translate(93.07,790.65) scale(0.8802,1)" font-family='"Liberation Sans", sans-serif' font-weight="bold" font-size="30.141" text-rendering="geometricPrecision" fill="#231f20">0</text>
<text transform="translate(107.82,790.65) scale(0.8802,1)" font-family='"Liberation Sans", sans-serif' font-weight="bold" font-size="30.141" text-rendering="geometricPrecision" fill="#231f20">0</text>
<text transform="translate(122.58,790.65) scale(0.8802,1)" font-family='"Liberation Sans", sans-serif' font-weight="bold" font-size="30.141" text-rendering="geometricPrecision" fill="#231f20">0</text>
<text transform="translate(137.33,790.65) scale(0.8802,1)" font-family='"Liberation Sans", sans-serif' font-weight="bold" font-size="30.141" text-rendering="geometricPrecision" fill="#231f20">0</text>
<text transform="translate(78.31,692.60) scale(0.8802,1)" font-family='"Liberation Sans", sans-serif' font-weight="bold" font-size="30.141" text-rendering="geometricPrecision" fill="#231f20">8</text>
<text transform="translate(93.07,692.60) scale(0.8802,1)" font-family='"Liberation Sans", sans-serif' font-weight="bold" font-size="30.141" text-rendering="geometricPrecision" fill="#231f20">0</text>
<text transform="translate(107.82,692.60) scale(0.8802,1)" font-family='"Liberation Sans", sans-serif' font-weight="bold" font-size="30.141" text-rendering="geometricPrecision" fill="#231f20">0</text>
<text transform="translate(122.58,692.60) scale(0.8802,1)" font-family='"Liberation Sans", sans-serif' font-weight="bold" font-size="30.141" text-rendering="geometricPrecision" fill="#231f20">0</text>
<text transform="translate(137.33,692.60) scale(0.8802,1)" font-family='"Liberation Sans", sans-serif' font-weight="bold" font-size="30.141" text-rendering="geometricPrecision" fill="#231f20">0</text>
<text transform="translate(158.15,1117.50) scale(0.9200,1)" font-family='"Liberation Sans", sans-serif' font-weight="bold" font-size="30.282" text-rendering="geometricPrecision" fill="#231f20">0</text>
<use href="#one" transform="translate(206.35,1117.50) scale(0.01360,-0.01479)"/>
<text transform="translate(254.55,1117.50) scale(0.9200,1)" font-family='"Liberation Sans", sans-serif' font-weight="bold" font-size="30.282" text-rendering="geometricPrecision" fill="#231f20">2</text>
<text transform="translate(302.75,1117.50) scale(0.9200,1)" font-family='"Liberation Sans", sans-serif' font-weight="bold" font-size="30.282" text-rendering="geometricPrecision" fill="#231f20">3</text>
<text transform="translate(350.95,1117.50) scale(0.9200,1)" font-family='"Liberation Sans", sans-serif' font-weight="bold" font-size="30.282" text-rendering="geometricPrecision" fill="#231f20">4</text>
<text transform="translate(399.15,1117.50) scale(0.9200,1)" font-family='"Liberation Sans", sans-serif' font-weight="bold" font-size="30.282" text-rendering="geometricPrecision" fill="#231f20">5</text>
<text transform="translate(447.35,1117.50) scale(0.9200,1)" font-family='"Liberation Sans", sans-serif' font-weight="bold" font-size="30.282" text-rendering="geometricPrecision" fill="#231f20">6</text>
<text transform="translate(495.55,1117.50) scale(0.9200,1)" font-family='"Liberation Sans", sans-serif' font-weight="bold" font-size="30.282" text-rendering="geometricPrecision" fill="#231f20">7</text>
<text transform="translate(543.75,1117.50) scale(0.9200,1)" font-family='"Liberation Sans", sans-serif' font-weight="bold" font-size="30.282" text-rendering="geometricPrecision" fill="#231f20">8</text>
<text transform="translate(591.95,1117.50) scale(0.9200,1)" font-family='"Liberation Sans", sans-serif' font-weight="bold" font-size="30.282" text-rendering="geometricPrecision" fill="#231f20">9</text>
<use href="#one" transform="translate(632.41,1117.50) scale(0.01360,-0.01479)"/>
<text transform="translate(647.90,1117.50) scale(0.9200,1)" font-family='"Liberation Sans", sans-serif' font-weight="bold" font-size="30.282" text-rendering="geometricPrecision" fill="#231f20">0</text>
<use href="#one" transform="translate(680.61,1117.50) scale(0.01360,-0.01479)"/>
<use href="#one" transform="translate(696.10,1117.50) scale(0.01360,-0.01479)"/>
<use href="#one" transform="translate(728.81,1117.50) scale(0.01360,-0.01479)"/>
<text transform="translate(744.30,1117.50) scale(0.9200,1)" font-family='"Liberation Sans", sans-serif' font-weight="bold" font-size="30.282" text-rendering="geometricPrecision" fill="#231f20">2</text>
<use href="#one" transform="translate(777.01,1117.50) scale(0.01360,-0.01479)"/>
<text transform="translate(792.50,1117.50) scale(0.9200,1)" font-family='"Liberation Sans", sans-serif' font-weight="bold" font-size="30.282" text-rendering="geometricPrecision" fill="#231f20">3</text>
<use href="#one" transform="translate(825.21,1117.50) scale(0.01360,-0.01479)"/>
<text transform="translate(840.70,1117.50) scale(0.9200,1)" font-family='"Liberation Sans", sans-serif' font-weight="bold" font-size="30.282" text-rendering="geometricPrecision" fill="#231f20">4</text>
<use href="#one" transform="translate(873.41,1117.50) scale(0.01360,-0.01479)"/>
<text transform="translate(888.90,1117.50) scale(0.9200,1)" font-family='"Liberation Sans", sans-serif' font-weight="bold" font-size="30.282" text-rendering="geometricPrecision" fill="#231f20">5</text>
<use href="#one" transform="translate(921.61,1117.50) scale(0.01360,-0.01479)"/>
<text transform="translate(937.10,1117.50) scale(0.9200,1)" font-family='"Liberation Sans", sans-serif' font-weight="bold" font-size="30.282" text-rendering="geometricPrecision" fill="#231f20">6</text>
<use href="#one" transform="translate(969.81,1117.50) scale(0.01360,-0.01479)"/>
<text transform="translate(985.30,1117.50) scale(0.9200,1)" font-family='"Liberation Sans", sans-serif' font-weight="bold" font-size="30.282" text-rendering="geometricPrecision" fill="#231f20">7</text>
<use href="#one" transform="translate(1018.01,1117.50) scale(0.01360,-0.01479)"/>
<text transform="translate(1033.50,1117.50) scale(0.9200,1)" font-family='"Liberation Sans", sans-serif' font-weight="bold" font-size="30.282" text-rendering="geometricPrecision" fill="#231f20">8</text>
<use href="#one" transform="translate(1066.21,1117.50) scale(0.01360,-0.01479)"/>
<text transform="translate(1081.70,1117.50) scale(0.9200,1)" font-family='"Liberation Sans", sans-serif' font-weight="bold" font-size="30.282" text-rendering="geometricPrecision" fill="#231f20">9</text>
<text transform="translate(1114.41,1117.50) scale(0.9200,1)" font-family='"Liberation Sans", sans-serif' font-weight="bold" font-size="30.282" text-rendering="geometricPrecision" fill="#231f20">2</text>
<text transform="translate(1129.90,1117.50) scale(0.9200,1)" font-family='"Liberation Sans", sans-serif' font-weight="bold" font-size="30.282" text-rendering="geometricPrecision" fill="#231f20">0</text>
<text transform="translate(1162.61,1117.50) scale(0.9200,1)" font-family='"Liberation Sans", sans-serif' font-weight="bold" font-size="30.282" text-rendering="geometricPrecision" fill="#231f20">2</text>
<use href="#one" transform="translate(1178.10,1117.50) scale(0.01360,-0.01479)"/>
<text transform="translate(1210.81,1117.50) scale(0.9200,1)" font-family='"Liberation Sans", sans-serif' font-weight="bold" font-size="30.282" text-rendering="geometricPrecision" fill="#231f20">2</text>
<text transform="translate(1226.30,1117.50) scale(0.9200,1)" font-family='"Liberation Sans", sans-serif' font-weight="bold" font-size="30.282" text-rendering="geometricPrecision" fill="#231f20">2</text>
<text transform="translate(1259.01,1117.50) scale(0.9200,1)" font-family='"Liberation Sans", sans-serif' font-weight="bold" font-size="30.282" text-rendering="geometricPrecision" fill="#231f20">2</text>
<text transform="translate(1274.50,1117.50) scale(0.9200,1)" font-family='"Liberation Sans", sans-serif' font-weight="bold" font-size="30.282" text-rendering="geometricPrecision" fill="#231f20">3</text>
<text transform="translate(1307.21,1117.50) scale(0.9200,1)" font-family='"Liberation Sans", sans-serif' font-weight="bold" font-size="30.282" text-rendering="geometricPrecision" fill="#231f20">2</text>
<text transform="translate(1322.70,1117.50) scale(0.9200,1)" font-family='"Liberation Sans", sans-serif' font-weight="bold" font-size="30.282" text-rendering="geometricPrecision" fill="#231f20">4</text>
</svg>
</body></html>
